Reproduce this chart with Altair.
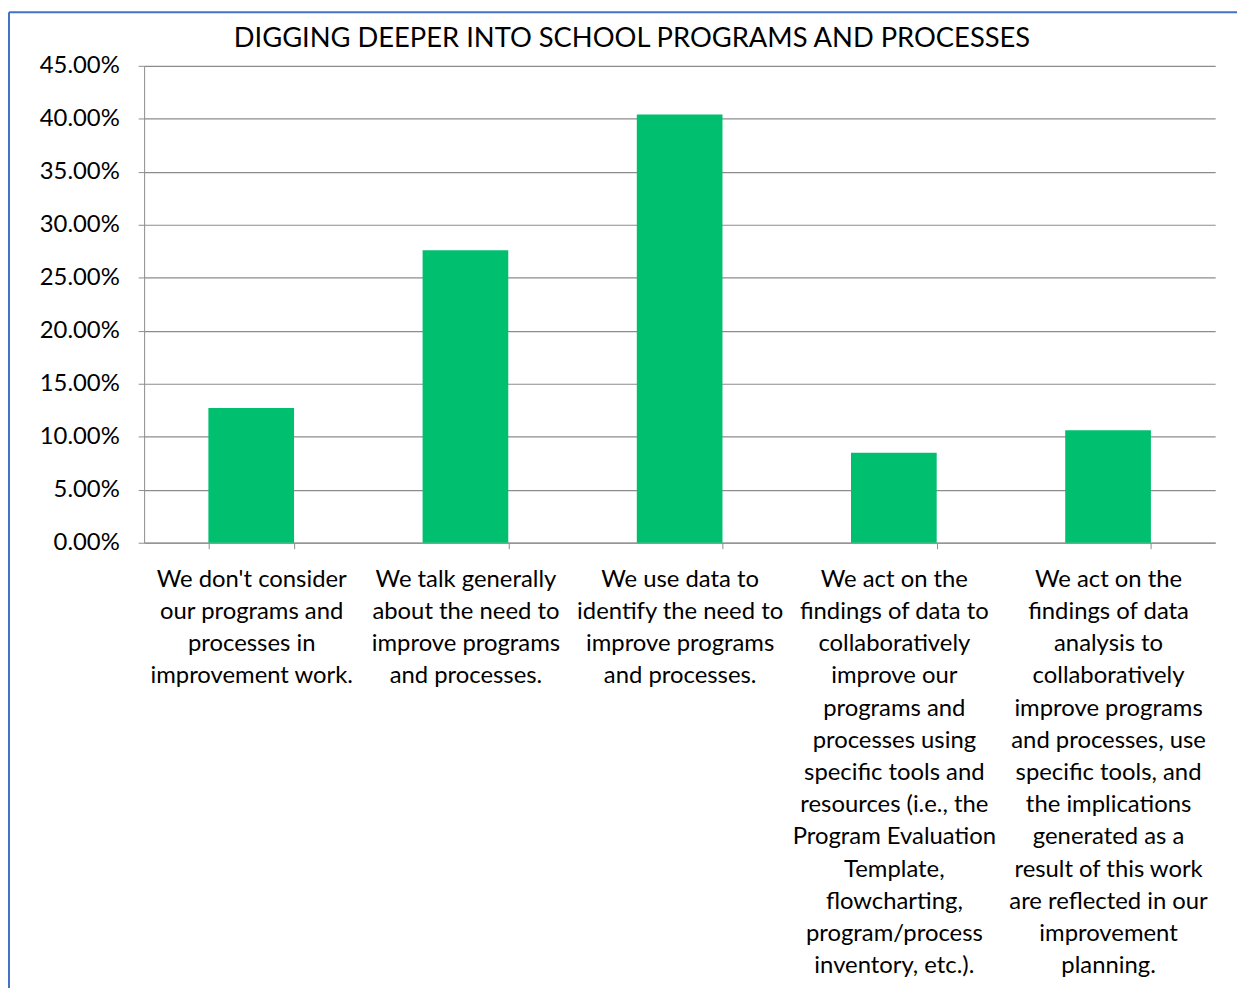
import altair as alt
import pandas as pd

categories = [
    "We don't consider|our programs and|processes in|improvement work.",
    "We talk generally|about the need to|improve programs|and processes.",
    "We use data to|identify the need to|improve programs|and processes.",
    "We act on the|findings of data to|collaboratively|improve our|programs and|processes using|specific tools and|resources (i.e., the|Program Evaluation|Template,|flowcharting,|program/process|inventory, etc.).",
    "We act on the|findings of data|analysis to|collaboratively|improve programs|and processes, use|specific tools, and|the implications|generated as a|result of this work|are reflected in our|improvement|planning.",
]
values = [0.127, 0.276, 0.404, 0.085, 0.106]
y_ticks = [0.0, 0.05, 0.10, 0.15, 0.20, 0.25, 0.30, 0.35, 0.40, 0.45]
title_text = ["DIGGING DEEPER INTO SCHOOL PROGRAMS AND PROCESSES"]

FONT = "Lato"
GRAY = "#8c8c8c"

df = pd.DataFrame({"category": categories, "share": values})

bars = alt.Chart(df).mark_bar(color="#00BF6F").encode(
    x=alt.X(
        "category:N",
        sort=categories,
        scale=alt.Scale(paddingInner=0.6, paddingOuter=0.3),
        axis=alt.Axis(
            title=None,
            labelAngle=0,
            labelExpr="split(datum.label, '|')",
            labelFont=FONT,
            labelFontSize=24,
            labelColor="#000000",
            labelLineHeight=32.4,
            labelPadding=19,
            labelLimit=0,
            labelOverlap=False,
            labelFlush=False,
            tickBand="extent",
            tickSize=6,
            tickColor=GRAY,
            domainColor=GRAY,
            grid=False,
        ),
    ),
    y=alt.Y(
        "share:Q",
        scale=alt.Scale(domain=[0, 0.45], nice=False),
        axis=alt.Axis(
            title=None,
            values=y_ticks,
            format=".2%",
            labelFont=FONT,
            labelFontSize=24,
            labelColor="#000000",
            labelPadding=19,
            tickSize=6,
            tickColor=GRAY,
            domainColor=GRAY,
            gridColor=GRAY,
            gridWidth=1.2,
        ),
    ),
)

frame_df = pd.DataFrame({"k": [0]})
left_border = alt.Chart(frame_df).mark_rule(color="#4472C4", strokeWidth=2).encode(
    x=alt.value(-136), y=alt.value(-54), y2=alt.value(930)
)
top_border = alt.Chart(frame_df).mark_rule(color="#4472C4", strokeWidth=2).encode(
    x=alt.value(-136), x2=alt.value(1100), y=alt.value(-54)
)

title_df = pd.DataFrame({"title": title_text})
title = alt.Chart(title_df).mark_text(
    font=FONT, fontSize=27.5, color="#000000", align="center", baseline="alphabetic"
).encode(text="title:N", x=alt.value(491), y=alt.value(-19))

chart = (
    alt.layer(bars, left_border, top_border, title)
    .properties(
        width=1078,
        height=480,
        autosize=alt.AutoSizeParams(type="none"),
        padding={"left": 137, "top": 55, "right": 26, "bottom": 445},
        background="white",
    )
    .configure_view(stroke=None)
)

chart.save("out.html", embed_options={"renderer": "svg", "actions": False})
